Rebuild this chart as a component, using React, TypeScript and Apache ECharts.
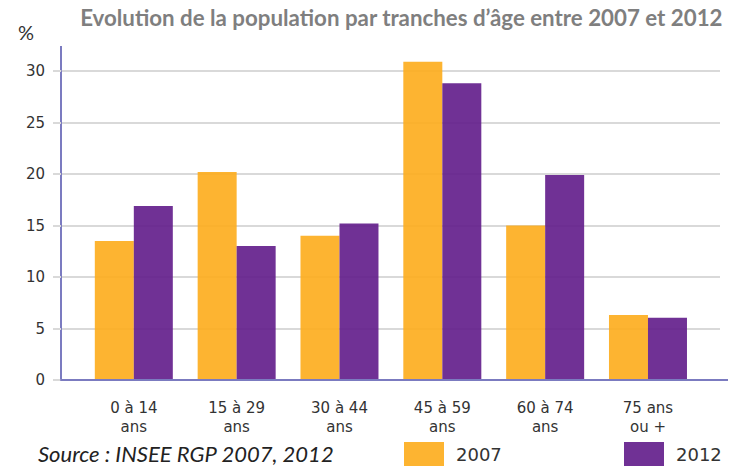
import React, { useEffect, useRef } from "react";
import * as echarts from "echarts";

const categories = ["0 à 14\nans", "15 à 29\nans", "30 à 44\nans", "45 à 59\nans", "60 à 74\nans", "75 ans\nou +"];
const values2007 = [13.5, 20.2, 14.0, 30.9, 15.0, 6.3];
const values2012 = [16.9, 13.0, 15.2, 28.8, 19.9, 6.05];
const seriesNames = ["2007", "2012"];
const yTicks = { min: 0, max: 30, interval: 5 };
const titleText = "Evolution de la population par tranches d’âge entre 2007 et 2012";
const sourceText = "Source : INSEE RGP 2007, 2012";
const unitText = "%";

const AXIS_COLOR = "#7b7bc0";
const GRID_COLOR = "#d9d9d9";
const ORANGE = "rgba(253,172,27,0.9)";
const PURPLE = "rgba(96,27,138,0.9)";

// plot geometry
const PLOT_TOP = 71; // y of the "30" gridline
const PLOT_BOTTOM = 380; // y of the zero line
const AXIS_TOP = 46; // where the y axis line starts
const BAR_MAX = (yTicks.max * (PLOT_BOTTOM - AXIS_TOP)) / (PLOT_BOTTOM - PLOT_TOP);

export default function App() {
  const ref = useRef<HTMLDivElement>(null);
  useEffect(() => {
    if (!ref.current) return;
    const chart = echarts.init(ref.current, null, { renderer: "svg" });
    const legendCommon = {
      top: 442,
      padding: 0,
      itemWidth: 40,
      itemHeight: 24,
      icon: "rect",
      selectedMode: false,
      textStyle: { fontFamily: "DejaVu Sans", fontSize: 18, color: "#333", padding: [0, 0, 0, 7] },
    };
    chart.setOption({
      animation: false,
      backgroundColor: "#fff",
      grid: [
        { left: 61, right: 24, top: PLOT_TOP, bottom: 466 - PLOT_BOTTOM },
        { left: 82.4, right: 44.6, top: AXIS_TOP, bottom: 466 - PLOT_BOTTOM },
      ],
      legend: [
        { ...legendCommon, left: 404, data: [seriesNames[0]] },
        { ...legendCommon, left: 624, data: [seriesNames[1]] },
      ],
      xAxis: [
        {
          type: "category",
          gridIndex: 0,
          data: categories,
          z: 5,
          axisLine: { lineStyle: { color: AXIS_COLOR, width: 2 } },
          axisTick: { show: false },
          axisLabel: { show: false },
        },
        {
          type: "category",
          gridIndex: 1,
          data: categories,
          axisLine: { show: false },
          axisTick: { show: false },
          axisLabel: {
            fontFamily: "DejaVu Sans",
            fontSize: 15,
            lineHeight: 19,
            color: "#333",
            margin: 18,
          },
        },
      ],
      yAxis: [
        {
          type: "value",
          gridIndex: 0,
          min: yTicks.min,
          max: yTicks.max,
          interval: yTicks.interval,
          axisLine: { show: true, lineStyle: { color: AXIS_COLOR, width: 2 } },
          axisTick: { show: true, length: 8, lineStyle: { color: GRID_COLOR, width: 2 } },
          axisLabel: { fontFamily: "DejaVu Sans", fontSize: 15, color: "#333", margin: 16 },
          splitLine: { lineStyle: { color: GRID_COLOR, width: 2 } },
        },
        {
          type: "value",
          gridIndex: 1,
          min: yTicks.min,
          max: BAR_MAX,
          show: false,
        },
      ],
      series: [
        {
          name: seriesNames[0],
          type: "bar",
          xAxisIndex: 1,
          yAxisIndex: 1,
          data: values2007,
          barWidth: 39,
          barGap: "0%",
          itemStyle: { color: ORANGE },
        },
        {
          name: seriesNames[1],
          type: "bar",
          xAxisIndex: 1,
          yAxisIndex: 1,
          data: values2012,
          barWidth: 39,
          barGap: "0%",
          itemStyle: { color: PURPLE },
        },
      ],
      graphic: [
        {
          type: "text",
          right: 21,
          top: 6,
          style: {
            text: titleText,
            font: "bold 22.3px Lato",
            fill: "#7f7f7f",
          },
        },
        {
          type: "text",
          left: 18,
          top: 22,
          style: { text: unitText, font: "20px Lato", fill: "#333" },
        },
        {
          type: "text",
          left: 38,
          top: 442,
          style: { text: sourceText, font: "italic 22px Lato", fill: "#222" },
        },
        {
          type: "line",
          shape: { x1: 61, y1: AXIS_TOP, x2: 61, y2: PLOT_TOP },
          style: { stroke: AXIS_COLOR, lineWidth: 2 },
        },
        {
          type: "line",
          shape: { x1: 719, y1: PLOT_BOTTOM, x2: 728, y2: PLOT_BOTTOM },
          style: { stroke: AXIS_COLOR, lineWidth: 2 },
        },
      ],
    });
    return () => chart.dispose();
  }, []);
  return (
    <div
      ref={ref}
      style={{ position: "fixed", left: 0, top: 0, width: 744, height: 466 }}
    />
  );
}
